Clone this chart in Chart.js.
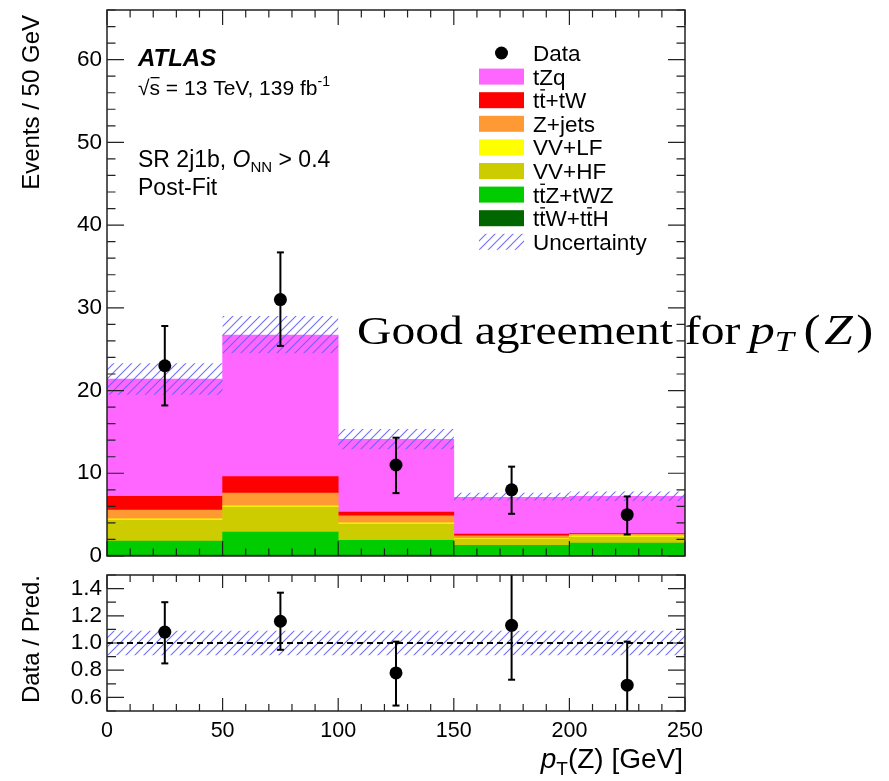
<!DOCTYPE html>
<html>
<head>
<meta charset="utf-8">
<script src="https://cdn.jsdelivr.net/npm/chart.js@4.4.1/dist/chart.umd.min.js"></script>
<style>
    body { margin: 0; background: #fff; }
    #wrap { position: relative; width: 889px; height: 781px; }
    #main { position: absolute; left: 0; top: 0; }
    #ratio { position: absolute; left: 0; top: 565px; }
</style>
</head>
<body>
<div id="wrap">
    <canvas id="main" width="889" height="570"></canvas>
    <canvas id="ratio" width="889" height="216"></canvas>
</div>
<script>
// bins of pT(Z) [GeV]
var binCenters = [25, 75, 125, 175, 225];
var xTicks = [0, 50, 100, 150, 200, 250];
var yTicks = [0, 10, 20, 30, 40, 50, 60];
var ratioTicks = [0.6, 0.8, 1.0, 1.2, 1.4];

// observed data (with Poisson error bar ends)
var dataCounts = [23, 31, 11, 8, 5];
var dataErrLow = [18.2, 25.4, 7.6, 5.1, 2.6];
var dataErrHigh = [27.8, 36.7, 14.3, 10.8, 7.2];

// post-fit predictions, per process (stacked bottom to top)
var ttWttH = [0.1, 0.1, 0.1, 0.05, 0.05];
var ttZtWZ = [1.7, 2.8, 1.8, 1.25, 1.5];
var vvHF = [2.55, 3.0, 1.95, 0.7, 0.75];
var vvLF = [0.15, 0.15, 0.15, 0.1, 0.15];
var zJets = [1.05, 1.55, 0.85, 0.35, 0.2];
var ttTW = [1.65, 2.0, 0.45, 0.2, 0.1];
var tZq = [14.2, 17.1, 8.8, 4.45, 4.45];

// total uncertainty band
var uncLow = [19.5, 24.5, 12.9, 6.7, 6.65];
var uncHigh = [23.3, 29.0, 15.35, 7.65, 7.8];

// ratio panel
var ratio = [1.08, 1.16, 0.78, 1.13, 0.69];
var ratioErrLow = [0.85, 0.95, 0.54, 0.73, 0.38];
var ratioErrHigh = [1.30, 1.37, 1.01, 1.54, 1.01];
var ratioUncLow = [0.91, 0.91, 0.91, 0.91, 0.91];
var ratioUncHigh = [1.09, 1.09, 1.09, 1.09, 1.09];
var ratioRef = 1.0;

var SANS = '"Liberation Sans", Arimo, Arial, Helvetica, sans-serif';
var SERIF = '"Liberation Serif", "Times New Roman", serif';
function f(size, style) { return (style || '') + ' ' + size + 'px ' + SANS; }
function fs(size, style) { return (style || '') + ' ' + size + 'px ' + SERIF; }

// processes, bottom of stack first; legend parts: [text, overline?]
var comps = [
    { values: ttWttH, color: '#006600', legend: [['t'], ['t', 1], ['W+t'], ['t', 1], ['H']] },
    { values: ttZtWZ, color: '#00cc00', legend: [['t'], ['t', 1], ['Z+tWZ']] },
    { values: vvHF, color: '#cccc00', legend: [['VV+HF']] },
    { values: vvLF, color: '#ffff00', legend: [['VV+LF']] },
    { values: zJets, color: '#ff9933', legend: [['Z+jets']] },
    { values: ttTW, color: '#ff0000', legend: [['t'], ['t', 1], ['+tW']] },
    { values: tZq, color: '#ff66ff', legend: [['tZq']] }
];

function makeHatch() {
    var c = document.createElement('canvas');
    c.width = 9; c.height = 9;
    var g = c.getContext('2d');
    g.strokeStyle = 'rgba(95,95,255,0.9)';
    g.lineWidth = 1.1;
    g.beginPath();
    g.moveTo(-1, 10); g.lineTo(10, -1);
    g.moveTo(-1, 1); g.lineTo(1, -1);
    g.moveTo(8, 10); g.lineTo(10, 8);
    g.stroke();
    return g.createPattern(c, 'repeat');
}
var hatch = makeHatch();

// draw a row of text pieces (font, vertical shift, optional overline)
function drawRich(ctx, x, y, segs, sx) {
    ctx.save();
    ctx.translate(x, y);
    ctx.scale(sx || 1, 1);
    ctx.textAlign = 'left';
    ctx.textBaseline = 'alphabetic';
    ctx.fillStyle = '#000';
    var cx = 0;
    segs.forEach(function(s) {
        ctx.font = s.f;
        cx += s.gap || 0;
        var w = ctx.measureText(s.t).width;
        ctx.fillText(s.t, cx, s.dy || 0);
        if (s.bar) ctx.fillRect(cx + 1, (s.dy || 0) - s.bar, w - 1.5, 1.3);
        cx += w;
    });
    ctx.restore();
    return cx * (sx || 1);
}
function richWidth(ctx, segs) {
    var w = 0;
    segs.forEach(function(s) { ctx.font = s.f; w += (s.gap || 0) + ctx.measureText(s.t).width; });
    return w;
}

// ROOT style frame with inward ticks on all four sides
function framePlugin(cfg) {
    return {
        id: 'rootFrame',
        afterDatasetsDraw: function(chart) {
            var ctx = chart.ctx, a = chart.chartArea, xs = chart.scales.x, ys = chart.scales.y;
            ctx.save();
            ctx.strokeStyle = '#222';
            ctx.lineWidth = 1.2;
            ctx.beginPath();
            var v, p, len;
            for (v = Math.ceil(xs.min / cfg.xMinor - 1e-9) * cfg.xMinor; v <= xs.max + 1e-9; v += cfg.xMinor) {
                p = xs.getPixelForValue(v);
                len = Math.abs(v / cfg.xMajor - Math.round(v / cfg.xMajor)) < 1e-6 ? cfg.xMajorLen : cfg.xMinorLen;
                ctx.moveTo(p, a.bottom); ctx.lineTo(p, a.bottom - len);
                ctx.moveTo(p, a.top); ctx.lineTo(p, a.top + len);
            }
            for (v = Math.ceil(ys.min / cfg.yMinor - 1e-9) * cfg.yMinor; v <= ys.max + 1e-9; v += cfg.yMinor) {
                p = ys.getPixelForValue(v);
                len = Math.abs(v / cfg.yMajor - Math.round(v / cfg.yMajor)) < 1e-6 ? cfg.yMajorLen : cfg.yMinorLen;
                ctx.moveTo(a.left, p); ctx.lineTo(a.left + len, p);
                ctx.moveTo(a.right, p); ctx.lineTo(a.right - len, p);
            }
            ctx.stroke();
            ctx.lineWidth = 1.5;
            ctx.strokeRect(a.left, a.top, a.right - a.left, a.bottom - a.top);
            ctx.restore();
        }
    };
}

function yTitle(ctx, text, x, yTop, size) {
    ctx.save();
    ctx.translate(x, yTop);
    ctx.rotate(-Math.PI / 2);
    ctx.font = f(size);
    ctx.textAlign = 'right';
    ctx.textBaseline = 'alphabetic';
    ctx.fillStyle = '#000';
    ctx.fillText(text, 0, 0);
    ctx.restore();
}

var annotations = {
    id: 'annotations',
    afterDraw: function(chart) {
        var ctx = chart.ctx;
        yTitle(ctx, 'Events / 50 GeV', 39, 15, 24);

        drawRich(ctx, 138, 66, [{ t: 'ATLAS', f: f(24, 'italic bold') }]);
        drawRich(ctx, 138, 95, [
            { t: '\u221A', f: f(21) },
            { t: 's', f: f(21), bar: 18 },
            { t: ' = 13 TeV, 139 fb', f: f(21) },
            { t: '-1', f: f(14), dy: -9 }
        ]);
        drawRich(ctx, 138, 167, [
            { t: 'SR 2j1b, ', f: f(23) },
            { t: 'O', f: f(23, 'italic') },
            { t: 'NN', f: f(15), dy: 5 },
            { t: ' > 0.4', f: f(23) }
        ]);
        drawRich(ctx, 138, 195, [{ t: 'Post-Fit', f: f(23) }]);

        // legend
        var lx = 479, lw = 45, lh = 16, tx = 533, y0 = 53, dy = 23.6;
        ctx.save();
        ctx.fillStyle = '#000';
        ctx.beginPath();
        ctx.arc(lx + lw / 2, y0, 6.5, 0, Math.PI * 2);
        ctx.fill();
        ctx.restore();
        drawRich(ctx, tx, y0 + 8, [{ t: 'Data', f: f(22.5) }]);
        comps.slice().reverse().forEach(function(c, i) {
            var yy = y0 + dy * (i + 1);
            ctx.fillStyle = c.color;
            ctx.fillRect(lx, yy - lh / 2, lw, lh);
            drawRich(ctx, tx, yy + 8, c.legend.map(function(p) {
                return { t: p[0], f: f(22.5), bar: p[1] ? 19 : 0 };
            }));
        });
        var yu = y0 + dy * (comps.length + 1);
        ctx.fillStyle = hatch;
        ctx.fillRect(lx, yu - lh / 2, lw, lh);
        drawRich(ctx, tx, yu + 8, [{ t: 'Uncertainty', f: f(22.5) }]);

        // overlay remark
        var end = drawRich(ctx, 357, 344, [{ t: 'Good agreement for', f: fs(40) }], 1.19);
        drawRich(ctx, 357 + end + 9, 344, [
            { t: 'p', f: fs(43, 'italic') },
            { t: 'T', f: fs(29, 'italic'), dy: 7 },
            { t: '(', f: fs(43), gap: 8 },
            { t: 'Z', f: fs(43, 'italic'), gap: 3 },
            { t: ')', f: fs(43), gap: 3 }
        ], 1.19);
    }
};

var ratioAnnotations = {
    id: 'ratioAnnotations',
    afterDraw: function(chart) {
        var ctx = chart.ctx;
        yTitle(ctx, 'Data / Pred.', 39, 10, 24);
        var segs = [
            { t: 'p', f: f(28, 'italic') },
            { t: 'T', f: f(19), dy: 7 },
            { t: '(Z) [GeV]', f: f(28) }
        ];
        drawRich(ctx, 683 - richWidth(ctx, segs), 203, segs);
    }
};

function xy(xs, ys) { return xs.map(function(x, i) { return { x: x, y: ys[i] }; }); }
function xr(xs, lo, hi) { return xs.map(function(x, i) { return { x: x, y: [lo[i], hi[i]] }; }); }
function fixedTicks(list) {
    return function(s) { s.ticks = list.map(function(v) { return { value: v }; }); };
}

function dataSets(vals, lo, hi) {
    return [
        { type: 'line', showLine: false, data: xy(binCenters, lo).concat(xy(binCenters, hi)),
          pointStyle: 'line', pointRadius: 3.5, pointHoverRadius: 3.5, pointBorderWidth: 2,
          pointBorderColor: '#000', borderColor: '#000' },
        { type: 'line', showLine: false, data: xy(binCenters, vals), pointStyle: 'circle',
          pointRadius: 6.5, pointHoverRadius: 6.5, pointBackgroundColor: '#000', pointBorderColor: '#000',
          pointBorderWidth: 0 },
        { type: 'bar', data: xr(binCenters, lo, hi), backgroundColor: '#000', barThickness: 2,
          grouped: false, inflateAmount: 0 }
    ];
}

// stacked process bars as floating [bottom, top] per bin
var cum = binCenters.map(function() { return 0; });
var stackSets = comps.map(function(c) {
    var pts = c.values.map(function(v, i) {
        var lo = cum[i];
        cum[i] = lo + v;
        return { x: binCenters[i], y: [lo, cum[i]] };
    });
    return { type: 'bar', data: pts, backgroundColor: c.color, borderWidth: 0, grouped: false,
             categoryPercentage: 1, barPercentage: 1 };
});

var mainSets = dataSets(dataCounts, dataErrLow, dataErrHigh).concat([
    { type: 'bar', data: xr(binCenters, uncLow, uncHigh), backgroundColor: hatch, borderWidth: 0,
      grouped: false, categoryPercentage: 1, barPercentage: 1, inflateAmount: 0 }
]).concat(stackSets);

var tickFontY = { family: SANS, size: 22.5 };
var tickFontX = { family: SANS, size: 21.5 };

function noPad(s) { s.paddingTop = 0; s.paddingBottom = 0; s.paddingLeft = 0; s.paddingRight = 0; }

new Chart(document.getElementById('main'), {
    type: 'bar',
    data: { datasets: mainSets },
    options: {
        responsive: false,
        animation: false,
        events: [],
        layout: { padding: { left: 0, right: 204, top: 10, bottom: 14 } },
        plugins: { legend: { display: false }, tooltip: { enabled: false } },
        scales: {
            x: { type: 'linear', min: 0, max: 250, offset: false, display: false,
                 afterBuildTicks: fixedTicks(xTicks), afterFit: noPad },
            y: {
                min: 0, max: 66,
                grid: { display: false, drawTicks: false },
                border: { display: false },
                ticks: { font: tickFontY, color: '#000', padding: 5 },
                afterBuildTicks: fixedTicks(yTicks),
                afterFit: function(s) { s.width = 107; noPad(s); }
            }
        }
    },
    plugins: [framePlugin({ xMajor: 50, xMinor: 10, xMajorLen: 15, xMinorLen: 7.5,
                            yMajor: 10, yMinor: 2, yMajorLen: 17, yMinorLen: 8.5 }), annotations]
});

var ratioSets = dataSets(ratio, ratioErrLow, ratioErrHigh).concat([
    { type: 'line', data: [{ x: 0, y: ratioRef }, { x: 250, y: ratioRef }], borderColor: '#000',
      borderWidth: 2, borderDash: [6, 4], pointRadius: 0 },
    { type: 'bar', data: xr(binCenters, ratioUncLow, ratioUncHigh), backgroundColor: hatch, borderWidth: 0,
      grouped: false, categoryPercentage: 1, barPercentage: 1, inflateAmount: 0 }
]);

new Chart(document.getElementById('ratio'), {
    type: 'bar',
    data: { datasets: ratioSets },
    options: {
        responsive: false,
        animation: false,
        events: [],
        layout: { padding: { left: 0, right: 204, top: 10, bottom: 0 } },
        plugins: { legend: { display: false }, tooltip: { enabled: false } },
        scales: {
            x: {
                type: 'linear', min: 0, max: 250, offset: false,
                grid: { display: false, drawTicks: false },
                border: { display: false },
                ticks: { autoSkip: false, maxRotation: 0, font: tickFontX, color: '#000', padding: 7 },
                afterBuildTicks: fixedTicks(xTicks),
                afterFit: function(s) { s.height = 70; noPad(s); }
            },
            y: {
                min: 0.5, max: 1.5,
                grid: { display: false, drawTicks: false },
                border: { display: false },
                ticks: { font: tickFontY, color: '#000', padding: 5,
                         callback: function(v) { return v.toFixed(1); } },
                afterBuildTicks: fixedTicks(ratioTicks),
                afterFit: function(s) { s.width = 107; noPad(s); }
            }
        }
    },
    plugins: [framePlugin({ xMajor: 50, xMinor: 10, xMajorLen: 13, xMinorLen: 7,
                            yMajor: 0.2, yMinor: 0.1, yMajorLen: 17, yMinorLen: 9 }), ratioAnnotations]
});
</script>
</body>
</html>
